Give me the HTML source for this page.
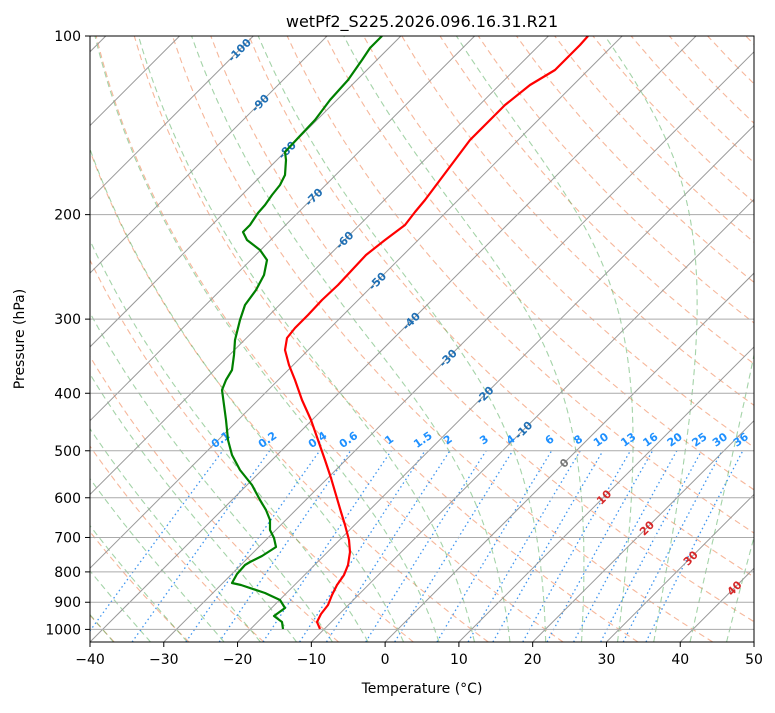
<!DOCTYPE html>
<html><head><meta charset="utf-8"><style>
body{margin:0;background:#fff;}
svg{font-family:"DejaVu Sans","Liberation Sans",sans-serif;}
</style></head><body>
<svg id="s" width="775" height="708" xmlns="http://www.w3.org/2000/svg">
<defs><clipPath id="c"><rect x="90" y="36" width="664" height="606"/></clipPath></defs>
<rect width="775" height="708" fill="#fff"/>
<g id="g" clip-path="url(#c)"></g>
<g id="lab"></g>
<polyline fill="none" stroke="red" stroke-width="2.2" stroke-linejoin="round" clip-path="url(#c)" points="320,629 317,622 321,614 328,605 332,595 337,585 344,575 348,565 350,552 349,540 345,525 341,512 336,495 331,478 325,460 318,440 311,420 302,400 295,380 289,365 285,350 287,338 295,328 308,315 322,300 338,285 352,270 366,255 385,240 405,225 415,212 425,200 440,180 455,160 470,140 485,125 505,105 530,85 555,70 570,55 580,45 588,36"/>
<polyline fill="none" stroke="green" stroke-width="2.2" stroke-linejoin="round" clip-path="url(#c)" points="283,629 282,622 274,616 285,608 280,600 265,593 241,585 232,583 237,574 245,565 250,562 262,556 276,547 274,538 270,530 270,520 266,510 260,500 252,485 240,470 232,455 228,440 226,420 224,405 222,390 226,380 232,370 234,355 235,340 240,320 245,305 256,290 264,275 267,260 260,250 247,240 243,232 250,225 258,213 265,205 272,195 280,185 285,175 286,160 285,152 298,138 315,120 330,100 348,80 362,60 370,48 382,36"/>
<rect x="90" y="36" width="664" height="606" fill="none" stroke="#000" stroke-width="1"/>
<text x="422" y="27" font-size="16" text-anchor="middle">wetPf2_S225.2026.096.16.31.R21</text>
<text x="422" y="693" font-size="14" text-anchor="middle">Temperature (°C)</text>
<text transform="translate(24,339) rotate(-90)" font-size="14" text-anchor="middle">Pressure (hPa)</text>
<g id="ax" font-size="14"></g>
</svg>
<script>
const NS="http://www.w3.org/2000/svg";
const g=document.getElementById('g'),lab=document.getElementById('lab'),ax=document.getElementById('ax');
function Y(p){return 36+593.4*Math.log10(p/100);}
function X(T,y){return 90+(T+40)*7.378+(642-y);}
function el(par,n,a,t){const e=document.createElementNS(NS,n);for(const k in a)e.setAttribute(k,a[k]);if(t!==undefined)e.textContent=t;par.appendChild(e);return e;}
const ps=[];for(let p=1050;p>=100;p-=10)ps.push(p);
function line(f,st){let pts=ps.map(p=>{const y=Y(p);return X(f(p),y).toFixed(1)+','+y.toFixed(1)}).join(' ');el(g,'polyline',Object.assign({fill:'none',points:pts},st));}
for(let t=-40;t<=200;t+=10){const th=t+273.15;line(p=>th*Math.pow(p/1000,0.2857)-273.15,{stroke:'#f4a582','stroke-width':1.1,'stroke-dasharray':'6,4',opacity:0.8});}
function es(T){return 6.112*Math.exp(17.67*T/(T+243.5));}
function dTdp(p,Tc){const T=Tc+273.15;const e=es(Tc);const rs=0.622*e/(p-e);const Rd=287,Cp=1005,Lv=2.5e6;return (1/p)*(Rd*T+Lv*rs)/(Cp+Lv*Lv*rs*0.622/(Rd*T*T));}
for(let t=-40;t<=45;t+=5){let T=t,p=1000;
 let Td=t,pp=1000;const dn=[];while(pp<1050){const h=5;Td+=h*dTdp(pp+h/2,Td+0.5*h*dTdp(pp,Td));pp+=h;dn.push([pp,Td]);}
 const up=[[1000,t]];while(p>100){const h=-5;const k1=dTdp(p,T),k2=dTdp(p+h/2,T+h/2*k1);T+=h*k2;p+=h;up.push([p,T]);}
 const all=dn.reverse().concat(up);
 el(g,'polyline',{fill:'none',stroke:'#5aae61','stroke-width':1.1,'stroke-dasharray':'6,4',opacity:0.55,points:all.map(([p,T])=>{const y=Y(p);return X(T,y).toFixed(1)+','+y.toFixed(1)}).join(' ')});}
const ws=[0.1,0.2,0.4,0.6,1,1.5,2,3,4,6,8,10,13,16,20,25,30,36];
for(const w of ws){const f=p=>{const e=w*p/(622+w);const l=Math.log(e/6.112);return 243.5*l/(17.67-l);};
 let pts=[];for(let p=1050;p>=500;p-=10){const y=Y(p);pts.push(X(f(p),y).toFixed(1)+','+y.toFixed(1));}
 el(g,'polyline',{fill:'none',stroke:'#3d94ef','stroke-width':1.3,'stroke-dasharray':'1.5,3',points:pts.join(' ')});
 const y=Y(500)-8,x=X(f(500),Y(500));
 if(x<770)el(lab,'text',{x:x,y:y,'font-size':11,'font-weight':'bold',fill:'#1e90ff','text-anchor':'middle',transform:`rotate(-35 ${x} ${y})`},String(w));}
for(let t=-200;t<=60;t+=10){const y1=642,y2=36;el(g,'line',{x1:X(t,y1),y1:y1,x2:X(t,y2),y2:y2,stroke:'#999','stroke-width':1});}
for(let p=100;p<=1000;p+=100){const y=Y(p);el(g,'line',{x1:90,x2:754,y1:y,y2:y,stroke:'#aaa','stroke-width':1});
 el(ax,'line',{x1:85,x2:90,y1:y,y2:y,stroke:'#000'});el(ax,'text',{x:81,y:y+5,'text-anchor':'end'},String(p));}
for(let t=-40;t<=50;t+=10){const x=90+(t+40)*7.378;el(ax,'line',{x1:x,x2:x,y1:642,y2:647,stroke:'#000'});el(ax,'text',{x:x,y:664,'text-anchor':'middle'},t<0?'\u2212'+(-t):String(t));}
const L=[[-100,50],[-90,103],[-80,150],[-70,197],[-60,240],[-50,281],[-40,321],[-30,358],[-20,395],[-10,430],[0,463],[10,497],[20,528],[30,558],[40,588]];
for(const [t,y] of L){const x=X(t,y);const col=t<0?'#1f6fb4':(t==0?'#777':'#d62728');
 el(lab,'text',{x:x,y:y+4,'font-size':11,'font-weight':'bold',fill:col,'text-anchor':'middle',transform:`rotate(-45 ${x} ${y})`},String(t));}
</script>
</body></html>
